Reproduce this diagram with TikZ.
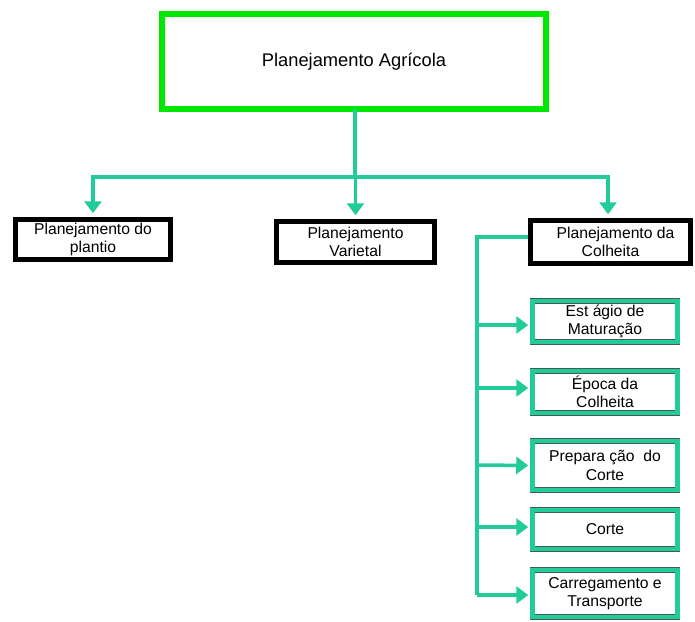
\documentclass[tikz,border=0pt]{standalone}
\usepackage{fontspec}
\setmainfont{Liberation Sans}
\usetikzlibrary{arrows.meta}

\definecolor{leafgreen}{RGB}{0,232,0}
\definecolor{seagreen}{RGB}{34,204,152}
\definecolor{edgegray}{RGB}{70,90,80}

\tikzset{
  mainbox/.style={draw=edgegray, double=leafgreen, double distance=5.5pt, line width=0.6pt,
    fill=white, align=center, font=\fontsize{18.3}{21}\selectfont},
  planbox/.style={draw=black, line width=4.5pt, fill=white, align=center,
    font=\fontsize{15.7}{18}\selectfont},
  stagebox/.style={draw=edgegray, double=seagreen, double distance=4.3pt, line width=0.5pt,
    fill=white, align=center, minimum width=145, font=\fontsize{15.7}{18.5}\selectfont},
  link/.style={draw=seagreen, line width=3.5pt},
  arrowlink/.style={link, -{Triangle[width=17pt,length=12pt]}, shorten >=4pt}
}

\begin{document}
\begin{tikzpicture}[x=1pt,y=-1pt]

\useasboundingbox (0,0) rectangle (695,621);

% Boxes
\node[mainbox, minimum width=384, minimum height=95] (agricola) at (354,61.5) {Planejamento Agrícola};

\node[planbox, minimum width=155, minimum height=40] (plantio) at (93,239.5) {Planejamento do\\plantio};
\node[planbox, minimum width=158, minimum height=41] (varietal) at (355.5,242) {Planejamento\\Varietal};
\node[planbox, minimum width=160, minimum height=43] (colheita) at (610.5,242) {\hspace*{10pt}Planejamento da\\Colheita};

\node[stagebox, minimum height=41] (maturacao) at (605,321.5) {Est ágio de\\Maturação};
\node[stagebox, minimum height=42] (epoca) at (605,392) {Época da\\Colheita};
\node[stagebox, minimum height=49] (preparo) at (605,465.5) {Prepara ção~~do\\Corte};
\node[stagebox, minimum height=39] (corte) at (605,529.5) {Corte};
\node[stagebox, minimum height=47] (transporte) at (605,593.5) {Carregamento e\\Transporte};

% Arrows
\coordinate (split) at (355,177);
\coordinate (spine) at (477,595);

\draw[link] (split |- agricola.south) -- (split);
\draw[arrowlink] (split) -| (plantio.north);
\draw[arrowlink] (split) -- (split -| varietal.north) -- (varietal.north);
\draw[arrowlink] (split) -| ([xshift=-2.5pt]colheita.north);

\draw[link] ([yshift=5pt]colheita.west) -| (spine);
\draw[arrowlink] (spine |- 0,325) -- (maturacao.west |- 0,325);
\draw[arrowlink] (spine |- 0,388) -- (epoca.west |- 0,388);
\draw[arrowlink] (spine |- 0,465) -- (preparo.west);
\draw[arrowlink] (spine |- 0,527) -- (corte.west |- 0,527);
\draw[arrowlink] (spine) -- (transporte.west |- spine);

\end{tikzpicture}
\end{document}
